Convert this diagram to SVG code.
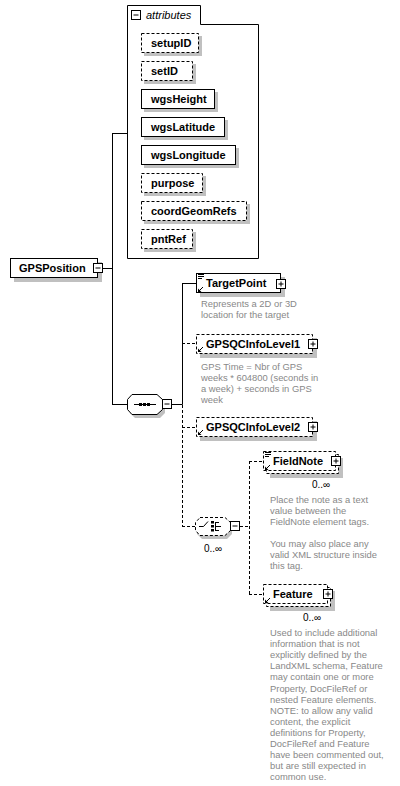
<svg xmlns="http://www.w3.org/2000/svg" width="400" height="786" viewBox="0 0 400 786">
<defs>
<style>
.box{fill:#fff;stroke:#000;stroke-width:1}
.opt{stroke-dasharray:3 2}
.sh{fill:#c0c0c0;stroke:none}
.nm{font-family:"Liberation Sans",Arial,sans-serif;font-weight:bold;font-size:11px;fill:#000}
.ds{font-family:"Liberation Sans",Arial,sans-serif;font-size:9.4px;fill:#888}
.oc{font-family:"Liberation Sans",Arial,sans-serif;font-size:10px;fill:#000}
.ln{stroke:#000;stroke-width:1;fill:none}
.dl{stroke-dasharray:3 2}
.ic{stroke:#000;stroke-width:1;fill:none}
</style>
<g id="plus"><rect x="0.5" y="0.5" width="9" height="9" class="box"/><path d="M2.5 5H7.5M5 2.5V7.5" class="ic"/></g>
<g id="minus"><rect x="0.5" y="0.5" width="9" height="9" class="box"/><path d="M2.5 5H7.5" class="ic"/></g>
<g id="doc"><path d="M0 0.5H6M0 2.5H6M0 4.5H4" class="ic"/></g>
<g id="ref"><path d="M1 6L5 2" class="ic"/><path d="M0 7L0 3.5L3.5 7Z" fill="#000"/></g>
</defs>
<rect width="400" height="786" fill="#fff"/>

<g id="connectors">
<path class="ln" d="M103 268.5H112.5M112.5 133V404.5M112 133.5H127M112 404.5H127"/>
<path class="ln" d="M172 404.5H182.5M182.5 283V404.5M182 283.5H196"/>
<path class="ln dl" d="M182.5 405V526.5M182 343.5H196M182 427.5H196M182 526.5H195"/>
<path class="ln dl" d="M240 526.5H249.5M249.5 461V594.5M249 461.5H263M249 594.5H263"/>
</g>

<g id="attributes">
<path class="box" d="M127.5 5.5H200.5V24.5H258.5V258.5H127.5Z"/>
<use href="#minus" x="131" y="10"/>
<text x="146" y="19" font-family="Liberation Sans,Arial,sans-serif" font-style="italic" font-size="11" fill="#000">attributes</text>
</g>

<g id="attr-setupID"><rect x="144" y="36" width="58" height="20" class="sh"/><rect x="141.5" y="33.5" width="57" height="19" class="box opt"/><text x="151" y="47" class="nm">setupID</text></g>
<g id="attr-setID"><rect x="144" y="64" width="52" height="20" class="sh"/><rect x="141.5" y="61.5" width="51" height="19" class="box opt"/><text x="151" y="75" class="nm">setID</text></g>
<g id="attr-wgsHeight"><rect x="144" y="92" width="74" height="20" class="sh"/><rect x="141.5" y="89.5" width="73" height="19" class="box"/><text x="151" y="103" class="nm">wgsHeight</text></g>
<g id="attr-wgsLatitude"><rect x="144" y="120" width="84" height="20" class="sh"/><rect x="141.5" y="117.5" width="83" height="19" class="box"/><text x="151" y="131" class="nm">wgsLatitude</text></g>
<g id="attr-wgsLongitude"><rect x="144" y="148" width="95" height="20" class="sh"/><rect x="141.5" y="145.5" width="94" height="19" class="box"/><text x="151" y="159" class="nm">wgsLongitude</text></g>
<g id="attr-purpose"><rect x="144" y="176" width="62" height="20" class="sh"/><rect x="141.5" y="173.5" width="61" height="19" class="box opt"/><text x="151" y="187" class="nm">purpose</text></g>
<g id="attr-coordGeomRefs"><rect x="144" y="204" width="106" height="20" class="sh"/><rect x="141.5" y="201.5" width="105" height="19" class="box opt"/><text x="151" y="215" class="nm">coordGeomRefs</text></g>
<g id="attr-pntRef"><rect x="144" y="232" width="52" height="20" class="sh"/><rect x="141.5" y="229.5" width="51" height="19" class="box opt"/><text x="151" y="243" class="nm">pntRef</text></g>

<g id="GPSPosition">
<rect x="14" y="262" width="88" height="20" class="sh"/>
<rect x="10.5" y="258.5" width="87" height="19" class="box"/>
<text x="19" y="272" class="nm">GPSPosition</text>
<use href="#minus" x="93" y="263"/>
</g>

<g id="sequence">
<polygon points="135,398 160,398 165,403 165,413 160,418 135,418 130,413 130,403" class="sh"/>
<polygon points="132,394.5 157,394.5 162.5,399.5 162.5,409.5 157,414.5 132,414.5 127.5,409.5 127.5,399.5" class="box"/>
<path class="ln" d="M134 404.5H156"/>
<rect x="139" y="403" width="3" height="3" fill="#000"/><rect x="143" y="403" width="3" height="3" fill="#000"/><rect x="147" y="403" width="3" height="3" fill="#000"/>
<use href="#minus" x="162" y="399"/>
</g>

<g id="TargetPoint">
<rect x="200" y="277" width="85" height="20" class="sh"/>
<rect x="196.5" y="273.5" width="84" height="19" class="box"/>
<use href="#doc" x="198" y="274"/>
<use href="#ref" x="198" y="285"/>
<text x="206" y="287" class="nm">TargetPoint</text>
<use href="#plus" x="276" y="279"/>
<text class="ds"><tspan x="201" y="306.5">Represents a 2D or 3D</tspan><tspan x="201" y="317.5">location for the target</tspan></text>
</g>

<g id="GPSQCInfoLevel1">
<rect x="200" y="338" width="117" height="20" class="sh"/>
<rect x="196.5" y="334.5" width="116" height="19" class="box opt"/>
<use href="#ref" x="198" y="345"/>
<text x="206" y="348" class="nm">GPSQCInfoLevel1</text>
<use href="#plus" x="308" y="339"/>
<text class="ds"><tspan x="201" y="370">GPS Time = Nbr of GPS</tspan><tspan x="201" y="381">weeks * 604800 (seconds in</tspan><tspan x="201" y="392">a week) + seconds in GPS</tspan><tspan x="201" y="403">week</tspan></text>
</g>

<g id="GPSQCInfoLevel2">
<rect x="200" y="421" width="117" height="20" class="sh"/>
<rect x="196.5" y="417.5" width="116" height="19" class="box opt"/>
<use href="#ref" x="198" y="428"/>
<text x="206" y="431" class="nm">GPSQCInfoLevel2</text>
<use href="#plus" x="308" y="422"/>
</g>

<g id="choice">
<polygon points="202,521 227,521 232,526 232,534 227,539 202,539 197,534 197,526" class="sh"/>
<polygon points="200,517.5 225,517.5 230.5,522.5 230.5,530.5 225,535.5 200,535.5 195.5,530.5 195.5,522.5" class="box opt"/>
<path class="ln" d="M199 526.5H203.5L208 521.5"/>
<rect x="211" y="521" width="3" height="2.5" fill="#000"/><rect x="211" y="525" width="3" height="2.5" fill="#000"/><rect x="211" y="529" width="3" height="2.5" fill="#000"/>
<path class="ln" d="M215.5 522V531M215 522.5H219M215 526.5H221M215 530.5H219"/>
<use href="#minus" x="230" y="521"/>
<text x="213" y="552" class="oc" text-anchor="middle">0..∞</text>
</g>

<g id="FieldNote">
<rect x="270" y="458" width="73" height="20" class="sh"/>
<rect x="266.5" y="454.5" width="72" height="19" class="box opt"/>
<rect x="263.5" y="451.5" width="72" height="19" class="box opt"/>
<use href="#doc" x="265" y="452"/>
<use href="#ref" x="265" y="463"/>
<text x="273" y="465" class="nm">FieldNote</text>
<use href="#plus" x="331" y="456"/>
<text x="321" y="488" class="oc" text-anchor="middle">0..∞</text>
<text class="ds"><tspan x="270" y="502.5">Place the note as a text</tspan><tspan x="270" y="513.5">value between the</tspan><tspan x="270" y="524.5">FieldNote element tags.</tspan><tspan x="270" y="546.5">You may also place any</tspan><tspan x="270" y="557.5">valid XML structure inside</tspan><tspan x="270" y="568.5">this tag.</tspan></text>
</g>

<g id="Feature">
<rect x="270" y="591" width="65" height="20" class="sh"/>
<rect x="266.5" y="587.5" width="64" height="19" class="box opt"/>
<rect x="263.5" y="584.5" width="64" height="19" class="box opt"/>
<use href="#ref" x="265" y="596"/>
<text x="273" y="598" class="nm">Feature</text>
<use href="#plus" x="323" y="589"/>
<text x="312" y="621" class="oc" text-anchor="middle">0..∞</text>
<text class="ds"><tspan x="270" y="636">Used to include additional</tspan><tspan x="270" y="647.1">information that is not</tspan><tspan x="270" y="658.2">explicitly defined by the</tspan><tspan x="270" y="669.3">LandXML schema, Feature</tspan><tspan x="270" y="680.4">may contain one or more</tspan><tspan x="270" y="691.5">Property, DocFileRef or</tspan><tspan x="270" y="702.6">nested Feature elements.</tspan><tspan x="270" y="713.7">NOTE: to allow any valid</tspan><tspan x="270" y="724.8">content, the explicit</tspan><tspan x="270" y="735.9">definitions for Property,</tspan><tspan x="270" y="747">DocFileRef and Feature</tspan><tspan x="270" y="758.1">have been commented out,</tspan><tspan x="270" y="769.2">but are still expected in</tspan><tspan x="270" y="780.3">common use.</tspan></text>
</g>
</svg>
